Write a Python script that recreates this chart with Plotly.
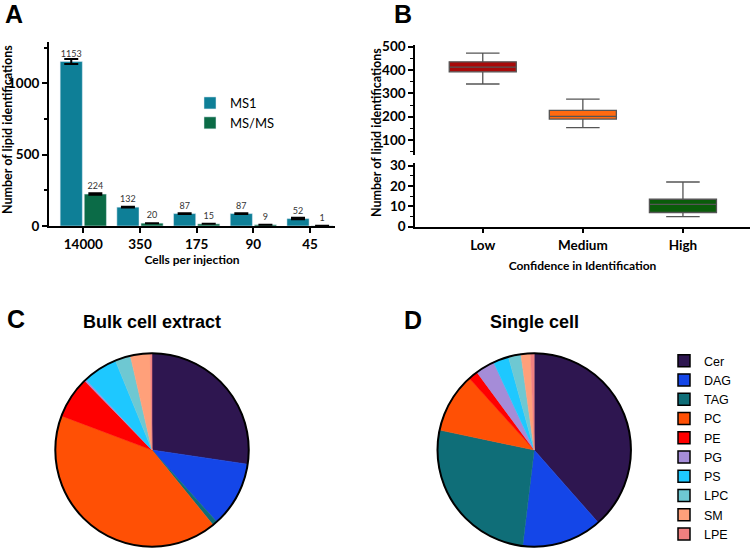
import plotly.graph_objects as go

# panel A: lipid identifications vs cells per injection
cells = ["14000", "350", "175", "90", "45"]
ms1_counts = [1153, 132, 87, 87, 52]
ms1_err = [17, 3, 3, 3, 5]
msms_counts = [224, 20, 15, 9, 1]
msms_err = [5, None, None, None, None]

# panel B: box stats per confidence level
confidence = ["Low", "Medium", "High"]
box_low = [340, 392, 412, 435, 472]      # lower fence, q1, median, q3, upper fence
box_medium = [153, 190, 201, 227, 275]
box_high = [5, 7, 11, 13.5, 22]
box_colors = ["#A80A0A", "#FF6A10", "#0A5C0A"]

# panels C and D: lipid class composition (%)
lipid_classes = ["Cer", "DAG", "TAG", "PC", "PE", "PG", "PS", "LPC", "SM", "LPE"]
bulk_share = [27.4, 11.0, 0.8, 41.7, 7.0, 0.3, 5.8, 2.6, 3.3, 0.3]
single_share = [38.5, 13.4, 26.4, 10.0, 1.6, 3.2, 2.6, 2.1, 1.6, 0.6]
class_colors = ["#2E1650", "#1446E8", "#0F6E78", "#FF5005", "#FF0000",
                "#A58CD8", "#1EC8FF", "#6EC8D2", "#FFA07A", "#F08080"]

W, H = 750, 550
def px(x): return x / W
def py(y): return 1 - y / H

fig = go.Figure()

# --- A: grouped bars
fig.add_trace(go.Bar(
    x=cells, y=ms1_counts, name="MS1", marker_color="#0E7F97",
    error_y=dict(type="data", array=ms1_err, color="black", thickness=2, width=7),
    texttemplate="%{y}", textposition="outside", constraintext="none",
    textfont=dict(size=9, color="#333"), cliponaxis=False, legend="legend"))
fig.add_trace(go.Bar(
    x=cells, y=msms_counts, name="MS/MS", marker_color="#0B6B47",
    error_y=dict(type="data", array=msms_err, color="black", thickness=2, width=7),
    texttemplate="%{y}", textposition="outside", constraintext="none",
    textfont=dict(size=9, color="#333"), cliponaxis=False, legend="legend"))

# --- B: box plots over a broken axis
for name, stats, col in zip(confidence, [box_low, box_medium, box_high], box_colors):
    lo, q1, med, q3, hi = stats
    fig.add_trace(go.Box(
        x=[name], q1=[q1], median=[med], q3=[q3], lowerfence=[lo], upperfence=[hi],
        fillcolor=col, line=dict(color="#555555", width=1.3), width=0.67,
        whiskerwidth=0.5, showlegend=False,
        xaxis="x2", yaxis="y2" if name == "High" else "y3"))

# --- C and D: pies with a black outer ring
pie_domains = [
    dict(x=[px(54), px(250)], y=[py(546.7), py(353.3)]),
    dict(x=[px(436.7), px(631.7)], y=[py(546.7), py(353.3)]),
]
for shares, dom in zip([bulk_share, single_share], pie_domains):
    fig.add_trace(go.Pie(
        labels=lipid_classes, values=shares, sort=False, direction="clockwise",
        marker=dict(colors=class_colors, line=dict(color=class_colors, width=0.5)),
        textinfo="none", hoverinfo="label+percent", showlegend=False, domain=dom))
    fig.add_trace(go.Pie(
        values=[1], labels=["ring"], sort=False, textinfo="none", hoverinfo="skip",
        marker=dict(colors=["rgba(0,0,0,0)"], line=dict(color="black", width=2)),
        showlegend=False, domain=dom))

# legend entries for the lipid classes (boxes with black borders)
for cls, col in zip(lipid_classes, class_colors):
    fig.add_trace(go.Scatter(
        x=[None], y=[None], mode="markers", name=cls, legend="legend2",
        marker=dict(symbol="square", size=12, color=col, line=dict(color="black", width=1.5))))

tick_font = dict(family="Lato", size=13.5, color="black", weight="bold")
axis_common = dict(showline=True, linecolor="black", showgrid=False, zeroline=False,
                   ticks="outside", tickcolor="black", tickfont=tick_font, automargin=False)

fig.update_layout(
    width=W, height=H, margin=dict(l=0, r=0, t=0, b=0, autoexpand=False),
    paper_bgcolor="white", plot_bgcolor="white",
    font=dict(family="Lato", color="black"),
    barmode="group", bargap=0.15, bargroupgap=0.08,
    xaxis=dict(axis_common, domain=[px(49), px(335)], anchor="y", type="category",
               categoryorder="array", categoryarray=cells, range=[-0.605, 4.44],
               linewidth=2, tickwidth=2, ticklen=5,
               title=dict(text="Cells per injection", standoff=3,
                          font=dict(family="Lato", size=12, weight="bold"))),
    yaxis=dict(axis_common, domain=[py(226), py(42)], anchor="x", range=[0, 1290],
               tick0=0, dtick=500, linewidth=2, tickwidth=2, ticklen=5,
               minor=dict(dtick=250, ticks="outside", ticklen=3, tickwidth=1.5,
                          tickcolor="black")),
    xaxis2=dict(axis_common, domain=[px(415), 1.0], anchor="y2", type="category",
                categoryorder="array", categoryarray=confidence, range=[-0.677, 2.67],
                linewidth=1.5, tickwidth=1.5, ticklen=5,
                title=dict(text="Confidence in Identification", standoff=10,
                           font=dict(family="Lato", size=12, weight="bold"))),
    yaxis2=dict(axis_common, domain=[py(226.7), py(163.3)], anchor="x2", range=[0, 31.2],
                tick0=0, dtick=10, linewidth=1.5, tickwidth=1.5, ticklen=5,
                minor=dict(dtick=5, ticks="outside", ticklen=3, tickwidth=1,
                           tickcolor="black")),
    yaxis3=dict(axis_common, domain=[py(155), py(45)], anchor="x2", range=[36, 507],
                tick0=0, dtick=100, linewidth=1.5, tickwidth=1.5, ticklen=5,
                minor=dict(dtick=50, ticks="outside", ticklen=3, tickwidth=1,
                           tickcolor="black")),
    legend=dict(x=px(190), y=py(88), xanchor="left", yanchor="top",
                font=dict(family="Lato", size=13), bgcolor="rgba(0,0,0,0)"),
    legend2=dict(x=px(664), y=py(346), xanchor="left", yanchor="top",
                 font=dict(family="Liberation Sans", size=12.5), bgcolor="rgba(0,0,0,0)"),
)

ann_font = dict(family="Lato", size=12.5, weight="bold", color="black")
letter_font = dict(family="Liberation Sans", size=25, weight="bold", color="black")
title_font = dict(family="Liberation Sans", size=18, weight="bold", color="black")
annotations = [
    dict(text="Number of lipid identifications", x=px(8), y=py(130), textangle=-90, font=ann_font),
    dict(text="Number of lipid identifications", x=px(376), y=py(133), textangle=-90, font=ann_font),
    dict(text="A", x=px(14), y=py(14), font=letter_font),
    dict(text="B", x=px(403), y=py(14), font=letter_font),
    dict(text="C", x=px(16), y=py(319), font=letter_font),
    dict(text="D", x=px(413), y=py(320), font=letter_font),
    dict(text="Bulk cell extract", x=px(152), y=py(322), font=title_font),
    dict(text="Single cell", x=px(534), y=py(322), font=title_font),
]
for a in annotations:
    fig.add_annotation(xref="paper", yref="paper", showarrow=False,
                       xanchor="center", yanchor="middle", **a)

# the page body has a default 8px margin; drop it so the figure sits at 0,0
fig.write_html("out.html", config={"displayModeBar": False},
               post_script="document.body.style.margin = '0px';")
